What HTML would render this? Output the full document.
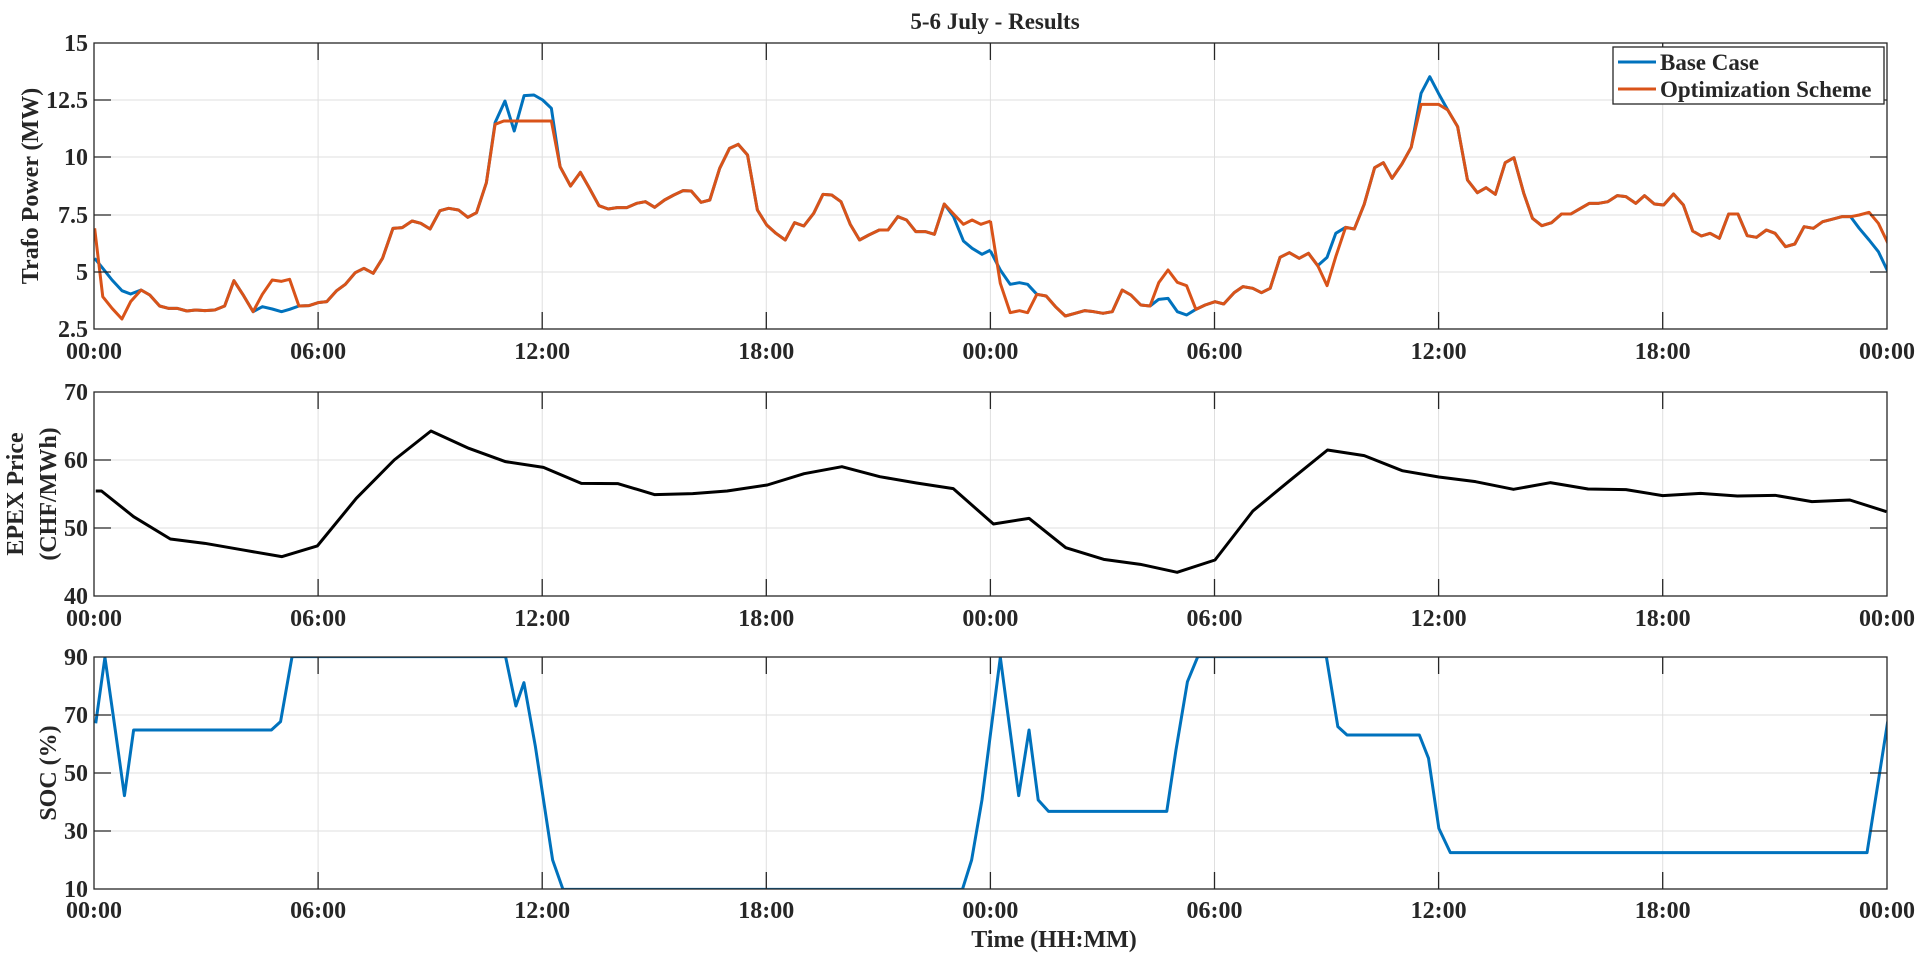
<!DOCTYPE html>
<html><head><meta charset="utf-8"><style>
html,body{margin:0;padding:0;background:#fff;}
svg{display:block;}
text{font-family:"Liberation Serif",serif;font-weight:bold;fill:#262626;}
</style></head><body>
<svg width="1920" height="963" viewBox="0 0 1920 963" xmlns="http://www.w3.org/2000/svg">
<defs>
<clipPath id="c1"><rect x="94" y="43" width="1793" height="286"/></clipPath>
<clipPath id="c2"><rect x="94" y="392" width="1793" height="204"/></clipPath>
<clipPath id="c3"><rect x="94" y="657" width="1793" height="232"/></clipPath>
</defs>
<rect width="1920" height="963" fill="#fff"/>
<text x="995" y="29" font-size="23" text-anchor="middle">5-6 July - Results</text>

<g stroke="#dfdfdf" stroke-width="1">
<path d="M318.1 43V329M542.2 43V329M766.3 43V329M990.4 43V329M1214.5 43V329M1438.6 43V329M1662.7 43V329"/>
<path d="M94 100H1887M94 157H1887M94 215H1887M94 272H1887"/>
<path d="M318.1 392V596M542.2 392V596M766.3 392V596M990.4 392V596M1214.5 392V596M1438.6 392V596M1662.7 392V596"/>
<path d="M94 460H1887M94 528H1887"/>
<path d="M318.1 657V889M542.2 657V889M766.3 657V889M990.4 657V889M1214.5 657V889M1438.6 657V889M1662.7 657V889"/>
<path d="M94 715H1887M94 773H1887M94 831H1887"/>
</g>

<g clip-path="url(#c1)" fill="none" stroke-width="3" stroke-linejoin="round">
<g transform="translate(90,40) scale(0.58035,0.33333)">
<polyline vector-effect="non-scaling-stroke" stroke="#0072BD" points="8,655 22,685 38,720 55,752 70,762 88,750 103,765 120,798 135,805 150,805 167,813 182,810 198,812 215,810 232,798 248,722 265,768 281,815 297,800 314,807 330,815 344,808 360,798 377,797 393,788 408,785 425,752 440,733 457,698 472,685 488,700 504,655 522,565 538,563 555,543 570,550 586,567 603,512 618,505 635,510 651,532 666,518 683,428 698,248 715,183 731,273 748,167 765,165 780,180 795,205 810,380 828,438 845,397 860,443 877,497 893,507 908,503 925,503 942,490 957,485 973,502 990,480 1006,465 1022,452 1036,453 1053,487 1068,480 1085,385 1102,325 1117,313 1133,345 1150,510 1166,555 1182,580 1198,600 1214,548 1230,558 1247,520 1263,463 1278,465 1294,485 1310,553 1326,600 1342,585 1360,570 1375,570 1392,530 1407,540 1423,575 1440,575 1455,583 1472,492 1488,530 1505,603 1520,625 1537,643 1552,630"/>
<polyline vector-effect="non-scaling-stroke" stroke="#D95319" points="8,565 22,770 38,805 55,837 70,785 88,750 103,765 120,798 135,805 150,805 167,813 182,810 198,812 215,810 232,798 248,722 265,768 281,815 297,763 314,720 330,724 344,718 360,798 377,797 393,788 408,785 425,752 440,733 457,698 472,685 488,700 504,655 522,565 538,563 555,543 570,550 586,567 603,512 618,505 635,510 651,532 666,518 683,428 698,253 713,243 795,243 810,380 828,438 845,397 860,443 877,497 893,507 908,503 925,503 942,490 957,485 973,502 990,480 1006,465 1022,452 1036,453 1053,487 1068,480 1085,385 1102,325 1117,313 1133,345 1150,510 1166,555 1182,580 1198,600 1214,548 1230,558 1247,520 1263,463 1278,465 1294,485 1310,553 1326,600 1342,585 1360,570 1375,570 1392,530 1407,540 1423,575 1440,575 1455,583 1472,492 1488,522 1505,553 1520,540 1535,553 1552,543"/>
</g>
<g transform="translate(980,40) scale(0.58035,0.33333)">
<polyline vector-effect="non-scaling-stroke" stroke="#0072BD" points="18,633 35,690 52,733 68,728 82,733 98,763 114,768 130,800 147,828 164,820 180,812 196,815 212,820 228,815 245,750 260,765 277,795 293,798 308,778 324,775 340,815 356,825 372,808 388,795 405,785 420,792 438,758 453,740 470,745 485,758 500,745 517,652 533,638 550,655 566,640 582,677 598,652 613,580 630,562 645,567 662,493 680,383 695,368 710,415 727,372 743,322 760,160 775,110 790,160 806,210 823,260 840,420 857,458 872,443 888,463 905,368 920,353 937,460 952,535 968,557 985,548 1002,522 1018,522 1035,505 1050,490 1066,490 1082,485 1098,467 1113,470 1130,490 1145,467 1162,492 1178,495 1195,462 1212,495 1228,573 1243,588 1258,580 1274,595 1290,522 1306,522 1322,587 1338,592 1355,570 1370,580 1388,620 1404,612 1420,560 1436,565 1452,545 1468,538 1485,530 1500,530 1515,565 1532,600 1548,635 1565,697"/>
<polyline vector-effect="non-scaling-stroke" stroke="#D95319" points="18,543 35,730 52,818 68,812 82,818 98,763 114,768 130,800 147,828 164,820 180,812 196,815 212,820 228,815 245,750 260,765 277,795 293,798 308,728 324,690 340,727 356,737 372,808 388,795 405,785 420,792 438,758 453,740 470,745 485,758 500,745 517,652 533,638 550,655 566,640 582,677 598,737 613,650 630,562 645,567 662,493 680,383 695,368 710,415 727,372 743,322 760,193 790,193 806,210 823,260 840,420 857,458 872,443 888,463 905,368 920,353 937,460 952,535 968,557 985,548 1002,522 1018,522 1035,505 1050,490 1066,490 1082,485 1098,467 1113,470 1130,490 1145,467 1162,492 1178,495 1195,462 1212,495 1228,573 1243,588 1258,580 1274,595 1290,522 1306,522 1322,587 1338,592 1355,570 1370,580 1388,620 1404,612 1420,560 1436,565 1452,545 1468,538 1485,530 1500,530 1515,525 1532,517 1548,550 1565,612"/>
</g>
</g>

<g clip-path="url(#c2)" fill="none">
<g transform="translate(90,385) scale(1.14796,0.33333)">
<polyline vector-effect="non-scaling-stroke" stroke="#000" stroke-width="3" stroke-linejoin="round" points="5,318 10,318 38,395 70,462 100,475 135,496 167,515 198,483 232,340 265,225 297,138 330,190 362,230 395,247 428,295 460,296 492,329 525,326 555,318 590,300 622,266 655,245 688,275 720,294 752,311 787,417 818,400 850,488 883,523 915,538 947,562 980,525 1013,378 1045,287 1078,195 1110,212 1143,257 1175,276 1207,290 1240,313 1272,293 1305,312 1338,314 1370,332 1403,325 1435,333 1468,331 1500,350 1533,345 1565,380"/>
</g>
</g>

<g clip-path="url(#c3)" fill="none">
<g transform="translate(90,650) scale(1.14796,0.33333)">
<polyline vector-effect="non-scaling-stroke" stroke="#0072BD" stroke-width="3" stroke-linejoin="round" points="5,220 13,22 22,240 30,437 38,240 158,240 166,215 176,20 362,20 371,168 378,98 388,290 403,630 412,718 760,718 768,630 777,450 793,22 809,437 818,240 826,450 835,484 938,484 946,300 956,95 965,20 1077,20 1087,230 1095,255 1158,255 1166,325 1175,535 1185,608 1548,608 1566,215"/>
</g>
</g>

<g stroke="#262626" stroke-width="1.3" fill="none">
<rect x="94" y="43" width="1793" height="286"/>
<rect x="94" y="392" width="1793" height="204"/>
<rect x="94" y="657" width="1793" height="232"/>
<path d="M318.1 43v17M542.2 43v17M766.3 43v17M990.4 43v17M1214.5 43v17M1438.6 43v17M1662.7 43v17
M318.1 329v-17M542.2 329v-17M766.3 329v-17M990.4 329v-17M1214.5 329v-17M1438.6 329v-17M1662.7 329v-17
M94 100h17M94 157h17M94 215h17M94 272h17M1887 100h-17M1887 157h-17M1887 215h-17M1887 272h-17"/>
<path d="M318.1 392v17M542.2 392v17M766.3 392v17M990.4 392v17M1214.5 392v17M1438.6 392v17M1662.7 392v17
M318.1 596v-17M542.2 596v-17M766.3 596v-17M990.4 596v-17M1214.5 596v-17M1438.6 596v-17M1662.7 596v-17
M94 460h17M94 528h17M1887 460h-17M1887 528h-17"/>
<path d="M318.1 657v17M542.2 657v17M766.3 657v17M990.4 657v17M1214.5 657v17M1438.6 657v17M1662.7 657v17
M318.1 889v-17M542.2 889v-17M766.3 889v-17M990.4 889v-17M1214.5 889v-17M1438.6 889v-17M1662.7 889v-17
M94 715h17M94 773h17M94 831h17M1887 715h-17M1887 773h-17M1887 831h-17"/>
</g>

<rect x="1613" y="47" width="271" height="57" fill="#fff" stroke="#262626" stroke-width="1.3"/>
<line x1="1618" y1="62" x2="1656" y2="62" stroke="#0072BD" stroke-width="3"/>
<line x1="1618" y1="89" x2="1656" y2="89" stroke="#D95319" stroke-width="3"/>
<text x="1660" y="70" font-size="23">Base Case</text>
<text x="1660" y="97" font-size="23">Optimization Scheme</text>

<g font-size="24" text-anchor="end">
<text x="88" y="51">15</text><text x="88" y="108">12.5</text><text x="88" y="165">10</text><text x="88" y="223">7.5</text><text x="88" y="280">5</text><text x="88" y="337">2.5</text>
<text x="88" y="400">70</text><text x="88" y="468">60</text><text x="88" y="536">50</text><text x="88" y="604">40</text>
<text x="88" y="665">90</text><text x="88" y="723">70</text><text x="88" y="781">50</text><text x="88" y="839">30</text><text x="88" y="897">10</text>
</g>

<g font-size="24" text-anchor="middle">
<g transform="translate(0,359)"><text x="94">00:00</text><text x="318.1">06:00</text><text x="542.2">12:00</text><text x="766.3">18:00</text><text x="990.4">00:00</text><text x="1214.5">06:00</text><text x="1438.6">12:00</text><text x="1662.7">18:00</text><text x="1887">00:00</text></g>
<g transform="translate(0,626)"><text x="94">00:00</text><text x="318.1">06:00</text><text x="542.2">12:00</text><text x="766.3">18:00</text><text x="990.4">00:00</text><text x="1214.5">06:00</text><text x="1438.6">12:00</text><text x="1662.7">18:00</text><text x="1887">00:00</text></g>
<g transform="translate(0,918)"><text x="94">00:00</text><text x="318.1">06:00</text><text x="542.2">12:00</text><text x="766.3">18:00</text><text x="990.4">00:00</text><text x="1214.5">06:00</text><text x="1438.6">12:00</text><text x="1662.7">18:00</text><text x="1887">00:00</text></g>
</g>

<g font-size="24" text-anchor="middle">
<text transform="translate(38,186) rotate(-90)">Trafo Power (MW)</text>
<text transform="translate(23,494) rotate(-90)">EPEX Price</text>
<text transform="translate(56,494) rotate(-90)">(CHF/MWh)</text>
<text transform="translate(56,773) rotate(-90)">SOC (%)</text>
<text x="1054" y="947">Time (HH:MM)</text>
</g>
</svg>
</body></html>
